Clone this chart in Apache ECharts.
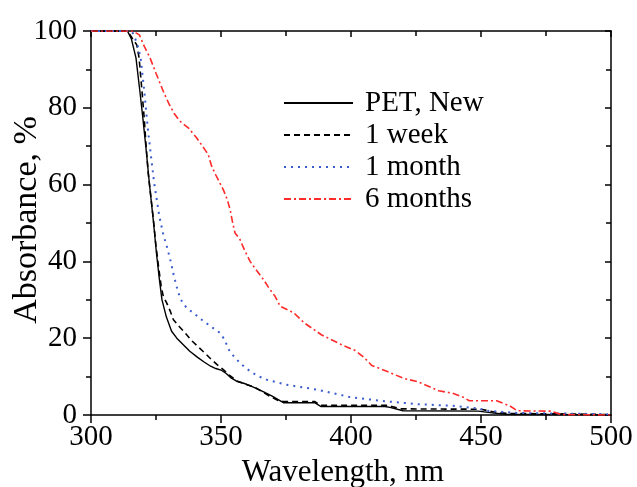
<!DOCTYPE html>
<html>
<head>
<meta charset="utf-8">
<script src="https://cdn.jsdelivr.net/npm/echarts@6/dist/echarts.min.js"></script>
<style>
  html, body { margin: 0; padding: 0; background: #fff; }
  #main { width: 637px; height: 487px; }
</style>
</head>
<body>
<div id="main"></div>
<script type="text/javascript">
  // wavelength (nm) and absorbance (%), one pair of arrays per sample
  var newWl  = [300, 314, 315.5, 317.3, 318.8, 320, 321.3, 322.5, 324, 325.2, 326.3, 327.3, 329, 331, 333, 335.5, 338, 341, 343.5, 346, 348, 350.3, 352, 354, 356, 359, 362, 365, 367, 369.5, 372, 374, 386, 388.5, 413, 415, 420, 449, 455, 460, 500];
  var newAbs = [100, 100, 98, 93, 84.3, 77, 68.5, 60, 50.4, 42, 35.3, 30, 25.5, 21.8, 20, 18.3, 16.6, 15, 13.8, 12.7, 12.1, 11.6, 10.8, 9.6, 8.8, 8.2, 7.4, 6.5, 5.8, 5.0, 4.0, 3.2, 3.2, 2.2, 2.2, 2.0, 1.1, 1.0, 0.5, 0.2, 0];

  var weekWl  = [300, 314, 316, 317.6, 318.5, 319.5, 320.5, 321.2, 322, 323, 324, 325, 326, 327, 327.8, 329.1, 330.5, 331.7, 334, 336.2, 338.5, 341.3, 344, 346.4, 348.5, 350.9, 353, 356, 360, 363, 366, 369, 372, 374, 386, 388.5, 414, 419, 450, 455, 460, 480, 500];
  var weekAbs = [100, 100, 98, 96.4, 93, 85.2, 77, 70, 63, 57, 51, 44, 38.5, 33.5, 30.9, 29.2, 27, 24.8, 23, 21.4, 19.5, 17.7, 16, 14.4, 13.1, 11.8, 10.5, 8.9, 7.9, 7.2, 6.0, 4.8, 3.8, 3.5, 3.5, 2.5, 2.5, 1.6, 1.5, 0.8, 0.4, 0.3, 0.1];

  var monthWl  = [300, 315.5, 316.5, 318, 319.1, 320.5, 321.7, 323, 324.3, 326.3, 327.8, 329.5, 331, 331.9, 333.6, 335, 336.8, 339.5, 342.6, 346.4, 349.6, 351.5, 352.8, 355.1, 358, 361.2, 364, 367.6, 372, 375, 387, 400, 413, 426, 439, 449, 452, 465, 480, 500];
  var monthAbs = [100, 100, 99, 96, 93, 84.3, 75.6, 67.8, 60.4, 51.7, 47, 43.1, 39, 36.1, 31.8, 29.5, 27.9, 26.5, 24.8, 22.9, 21.4, 19.5, 17.2, 15.1, 13.1, 11.4, 10.2, 9.2, 8.4, 7.9, 6.6, 4.6, 3.6, 2.8, 2.4, 1.7, 1.1, 0.5, 0.4, 0.2];

  var sixWl  = [300, 316, 318.6, 320.5, 322.7, 325, 327.8, 330, 332, 334.2, 337.4, 340.6, 343.8, 345.1, 346.4, 348, 349.6, 351, 352.4, 353.5, 354.5, 355.4, 357.3, 359, 361.2, 363.5, 366.3, 368.5, 370.8, 372.8, 378, 382, 388.6, 396.4, 401.6, 405, 408, 413, 420, 426, 433.7, 439, 443, 445.5, 456, 461, 464, 477, 481, 500];
  var sixAbs = [100, 100, 99, 96, 93, 89, 84.3, 81, 78.5, 76.5, 74.8, 72.2, 69.1, 67.8, 64.8, 62.5, 60.4, 58.5, 56.1, 53.5, 50, 47.4, 45.7, 43, 40, 37.8, 35.3, 33, 30.9, 28.3, 26.6, 24, 20.9, 18.3, 16.8, 15, 12.9, 11.6, 9.6, 8.6, 6.3, 5.7, 4.7, 3.7, 3.7, 2.4, 1.1, 1.0, 0.1, 0];

  var seriesNames = ['PET, New', '1 week', '1 month', '6 months'];
  var xTicks = { min: 300, max: 500, step: 50 };
  var yTicks = { min: 0, max: 100, step: 20 };

  function zip(xs, ys) {
    var out = [];
    for (var i = 0; i < xs.length; i++) {
      out.push([xs[i], ys[i]]);
    }
    return out;
  }

  var font = 'Liberation Serif';
  var black = '#000';

  var chart = echarts.init(document.getElementById('main'));

  var option = {
    backgroundColor: '#fff',
    animation: false,
    grid: { left: 91, right: 26, top: 31, bottom: 72, outerBoundsMode: 'none' },
    legend: {
      orient: 'vertical',
      left: 283,
      top: 87,
      padding: 0,
      itemGap: 0,
      itemWidth: 69,
      itemHeight: 14,
      data: seriesNames,
      itemStyle: { opacity: 0, borderWidth: 0 }, // only the line, no marker
      textStyle: { fontFamily: font, fontSize: 29, color: black, lineHeight: 32, padding: [0, 0, 0, 7] }
    },
    xAxis: [
      {
        type: 'value', position: 'bottom',
        min: xTicks.min, max: xTicks.max, interval: xTicks.step,
        name: 'Wavelength, nm', nameLocation: 'middle', nameGap: 40,
        nameTextStyle: { fontFamily: font, fontSize: 31, color: black, padding: [0, 16, 0, 0] },
        axisLine: { onZero: false, lineStyle: { color: black, width: 1.5 } },
        axisTick: { inside: false, length: 8, lineStyle: { color: black, width: 1.5 } },
        minorTick: { show: true, splitNumber: 2, length: 5, lineStyle: { color: black, width: 1.5 } },
        splitLine: { show: false },
        axisLabel: { fontFamily: font, fontSize: 29, color: black, margin: 8 }
      },
      {
        type: 'value', position: 'top',
        min: xTicks.min, max: xTicks.max, interval: xTicks.step,
        axisLine: { onZero: false, lineStyle: { color: black, width: 1.5 } },
        axisTick: { inside: true, length: 6, lineStyle: { color: black, width: 1.5 } },
        minorTick: { show: true, splitNumber: 2, length: 5, lineStyle: { color: black, width: 1.5 } },
        splitLine: { show: false },
        axisLabel: { show: false }
      }
    ],
    yAxis: [
      {
        type: 'value', position: 'left',
        min: yTicks.min, max: yTicks.max, interval: yTicks.step,
        name: 'Absorbance, %', nameLocation: 'middle', nameGap: 47, nameRotate: 90,
        nameMoveOverlap: false,
        nameTextStyle: { fontFamily: font, fontSize: 34, color: black, padding: [0, 0, 0, 6] },
        axisLine: { onZero: false, lineStyle: { color: black, width: 1.5 } },
        axisTick: { inside: false, length: 8, lineStyle: { color: black, width: 1.5 } },
        minorTick: { show: true, splitNumber: 2, length: 5, lineStyle: { color: black, width: 1.5 } },
        splitLine: { show: false },
        axisLabel: { fontFamily: font, fontSize: 29, color: black, margin: 14 }
      },
      {
        type: 'value', position: 'right',
        min: yTicks.min, max: yTicks.max, interval: yTicks.step,
        axisLine: { onZero: false, lineStyle: { color: black, width: 1.5 } },
        axisTick: { inside: true, length: 6, lineStyle: { color: black, width: 1.5 } },
        minorTick: { show: true, splitNumber: 2, length: 5, lineStyle: { color: black, width: 1.5 } },
        splitLine: { show: false },
        axisLabel: { show: false }
      }
    ],
    series: [
      {
        name: seriesNames[0], type: 'line', symbol: 'none', xAxisIndex: 0, yAxisIndex: 0,
        color: '#000',
        lineStyle: { color: '#000', width: 1.4, type: 'solid' },
        data: zip(newWl, newAbs)
      },
      {
        name: seriesNames[1], type: 'line', symbol: 'none', xAxisIndex: 0, yAxisIndex: 0,
        color: '#000',
        lineStyle: { color: '#000', width: 1.6, type: [6, 4] },
        data: zip(weekWl, weekAbs)
      },
      {
        name: seriesNames[2], type: 'line', symbol: 'none', xAxisIndex: 0, yAxisIndex: 0,
        color: '#3a5ccc',
        lineStyle: { color: '#3a5ccc', width: 2, type: [2, 5] },
        data: zip(monthWl, monthAbs)
      },
      {
        name: seriesNames[3], type: 'line', symbol: 'none', xAxisIndex: 0, yAxisIndex: 0,
        color: '#ff2a2a',
        lineStyle: { color: '#ff2a2a', width: 1.6, type: [7, 3, 2, 3] },
        data: zip(sixWl, sixAbs)
      }
    ]
  };
  chart.setOption(option);
</script>
</body>
</html>
